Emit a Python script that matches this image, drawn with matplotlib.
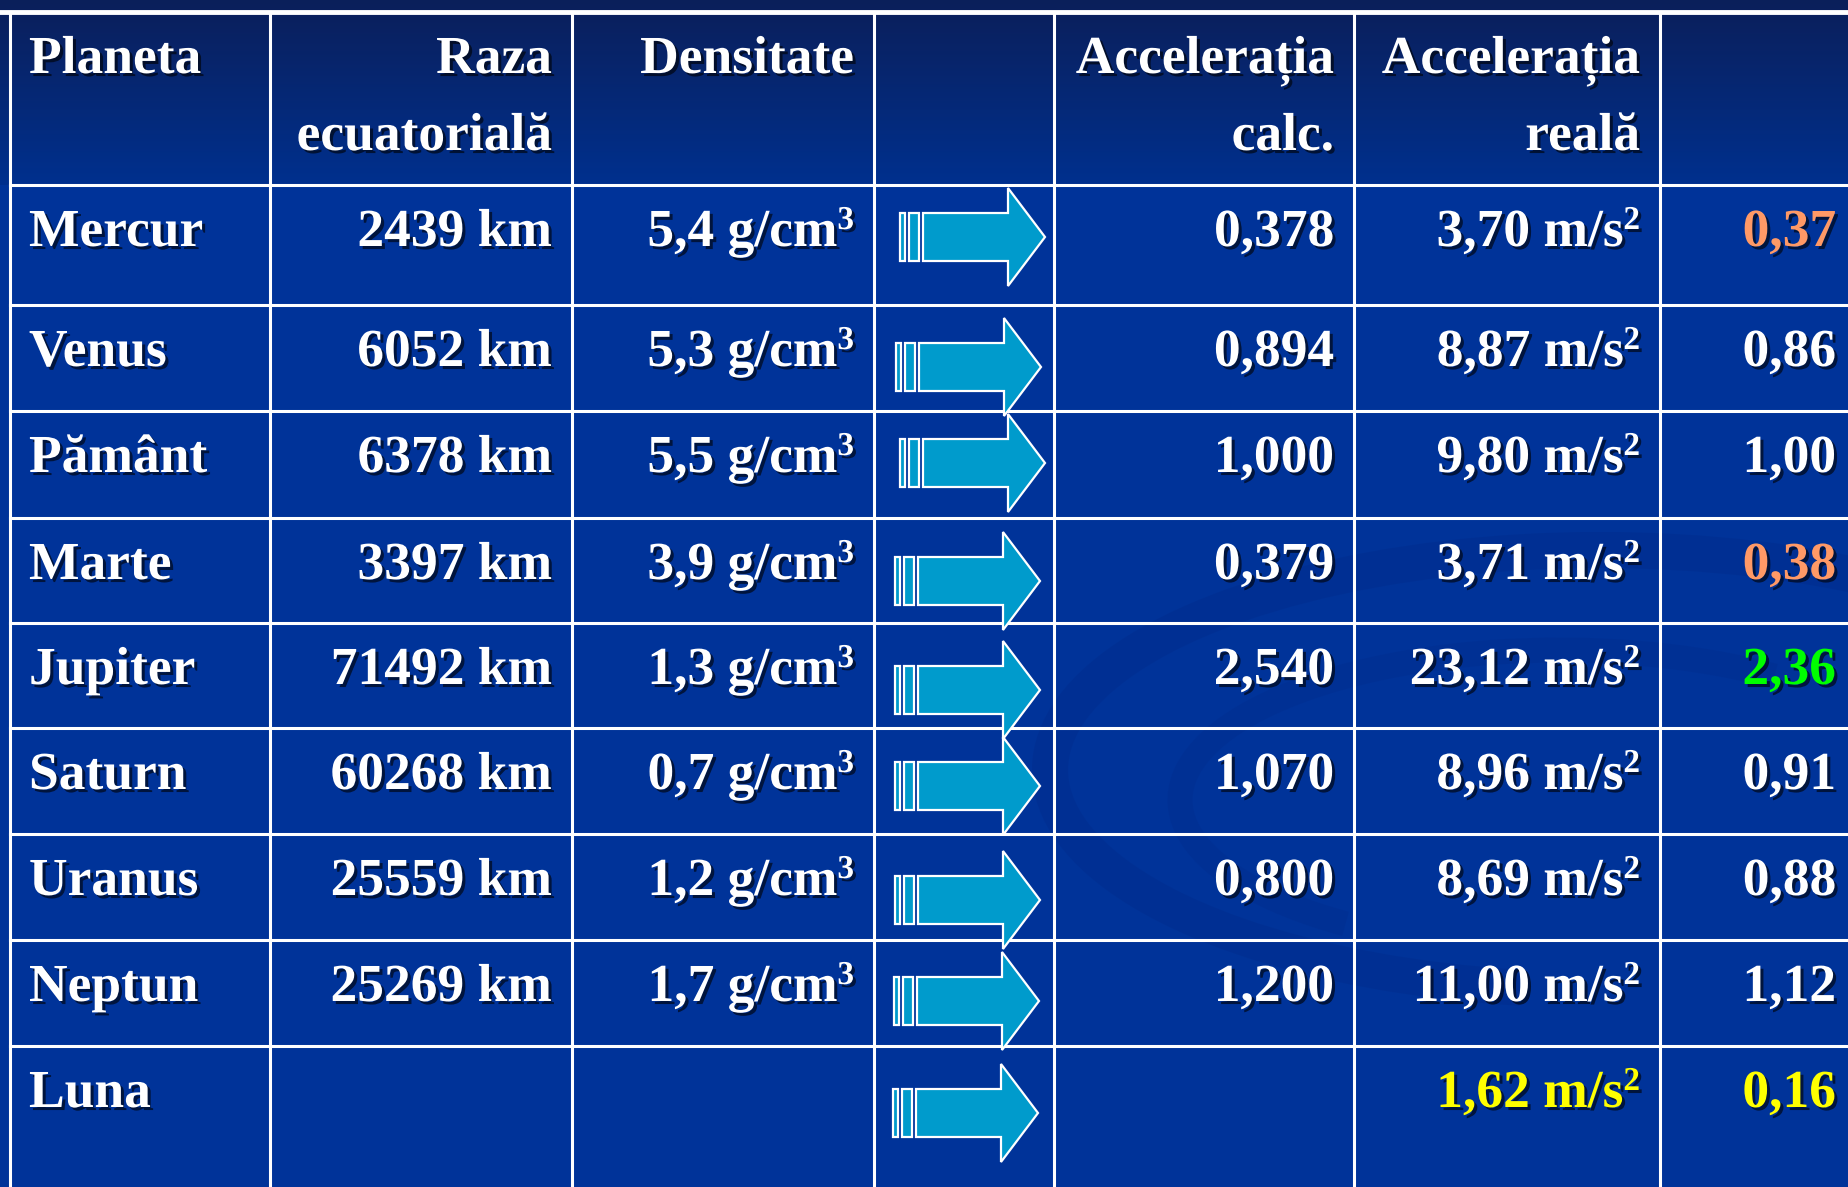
import matplotlib.pyplot as plt
import matplotlib.patheffects as pe
from matplotlib.patches import Polygon, Rectangle, Arc
from matplotlib.colors import LinearSegmentedColormap
import numpy as np

# date tabel
planete = ['Mercur', 'Venus', 'Pământ', 'Marte', 'Jupiter', 'Saturn', 'Uranus', 'Neptun', 'Luna']
raza = ['2439 km', '6052 km', '6378 km', '3397 km', '71492 km', '60268 km', '25559 km', '25269 km', '']
densitate = ['5,4 g/cm³', '5,3 g/cm³', '5,5 g/cm³', '3,9 g/cm³', '1,3 g/cm³', '0,7 g/cm³',
             '1,2 g/cm³', '1,7 g/cm³', '']
acc_calc = ['0,378', '0,894', '1,000', '0,379', '2,540', '1,070', '0,800', '1,200', '']
acc_reala = ['3,70 m/s²', '8,87 m/s²', '9,80 m/s²', '3,71 m/s²', '23,12 m/s²', '8,96 m/s²',
             '8,69 m/s²', '11,00 m/s²', '1,62 m/s²']
raport = ['0,37', '0,86', '1,00', '0,38', '2,36', '0,91', '0,88', '1,12', '0,16']
antet = ['Planeta', 'Raza\necuatorială', 'Densitate', '', 'Accelerația\ncalc.', 'Accelerația\nreală', '']

# culori text
ALB = 'white'
ORANJ = '#ff9966'
VERDE = '#00ff00'
GALBEN = '#ffff00'
culori_reala = [ALB] * 8 + [GALBEN]
culori_raport = [ORANJ, ALB, ALB, ORANJ, VERDE, ALB, ALB, ALB, GALBEN]

# layout in pixeli
W, H = 1849, 1187
col_x = [10, 270, 572, 874, 1054, 1354, 1660, 1856]
row_y = [12, 185, 305, 411, 518, 623, 728, 834, 940, 1046, 1190]
arrow_x = [900, 896, 900, 895, 895, 895, 895, 894, 893]
arrow_cy = [237, 367, 463, 581, 690, 786, 900, 1001, 1113]

fig = plt.figure(figsize=(W / 100, H / 100), dpi=100)
ax = fig.add_axes([0, 0, 1, 1])
ax.set_xlim(0, W)
ax.set_ylim(H, 0)
ax.axis('off')

# fundal
ax.add_patch(Rectangle((0, 0), W, H, color='#003399', zorder=0))
grad = np.linspace(0, 1, 200).reshape(-1, 1)
cm_head = LinearSegmentedColormap.from_list('h', ['#0b1f5a', '#00308e'])
ax.imshow(grad, cmap=cm_head, extent=[0, W, row_y[1], 0], aspect='auto', zorder=0.5)

# vartej decorativ (foarte discret)
ax.add_patch(Arc((1600, 770), 1100, 440, theta1=110, theta2=360, color='#002c8c', lw=26, alpha=0.45, zorder=0.8))
ax.add_patch(Arc((1560, 800), 760, 300, theta1=150, theta2=330, color='#002c8c', lw=18, alpha=0.35, zorder=0.8))

# linii tabel
for x in col_x:
    ax.plot([x, x], [row_y[0], H], color='white', lw=2.2, zorder=2)
ax.plot([0, W], [row_y[0], row_y[0]], color='white', lw=3.5, zorder=2)
for y in row_y[1:-1]:
    ax.plot([col_x[0], W], [y, y], color='white', lw=2.2, zorder=2)

umbra = [pe.SimplePatchShadow(offset=(2.2, -2.2), shadow_rgbFace='black', alpha=0.6), pe.Normal()]
FAM = ['Liberation Serif', 'DejaVu Serif']
SUP = {'³': '3', '²': '2'}
renderer = fig.canvas.get_renderer()


def scrie(x, y, s, ha, color=ALB):
    if s and s[-1] in SUP and ha == 'right':
        t = ax.text(x, y - 17, SUP[s[-1]], ha='right', va='baseline', color=color, path_effects=umbra,
                    zorder=4, family=FAM, fontweight='bold', fontsize=24)
        w = t.get_window_extent(renderer).width
        x = x - w
        s = s[:-1]
    ax.text(x, y, s, ha=ha, va='baseline', color=color, path_effects=umbra, zorder=4,
            family=FAM, fontweight='bold', fontsize=38.5)


# antet
for i, s in enumerate(antet):
    if not s:
        continue
    for k, linie in enumerate(s.split('\n')):
        if i == 0:
            scrie(col_x[0] + 19, 73 + 77 * k, linie, 'left')
        else:
            scrie(col_x[i + 1] - 20, 73 + 77 * k, linie, 'right')

# randuri
for r in range(len(planete)):
    yb = row_y[r + 1] + 61
    scrie(col_x[0] + 19, yb, planete[r], 'left')
    scrie(col_x[2] - 20, yb, raza[r], 'right')
    scrie(col_x[3] - 20, yb, densitate[r], 'right')
    scrie(col_x[5] - 20, yb, acc_calc[r], 'right')
    scrie(col_x[6] - 20, yb, acc_reala[r], 'right', culori_reala[r])
    scrie(col_x[7] - 20, yb, raport[r], 'right', culori_raport[r])

    # sageata
    x0, cy = arrow_x[r], arrow_cy[r]
    sty = dict(facecolor='#009bcc', edgecolor='white', lw=1.6, zorder=3)
    ax.add_patch(Rectangle((x0, cy - 24), 5, 48, **sty))
    ax.add_patch(Rectangle((x0 + 9, cy - 24), 10, 48, **sty))
    ax.add_patch(Polygon([(x0 + 23, cy - 24), (x0 + 108, cy - 24), (x0 + 108, cy - 49),
                          (x0 + 145, cy), (x0 + 108, cy + 49), (x0 + 108, cy + 24),
                          (x0 + 23, cy + 24)], closed=True, **sty))

fig.savefig('out.png', dpi=100)
